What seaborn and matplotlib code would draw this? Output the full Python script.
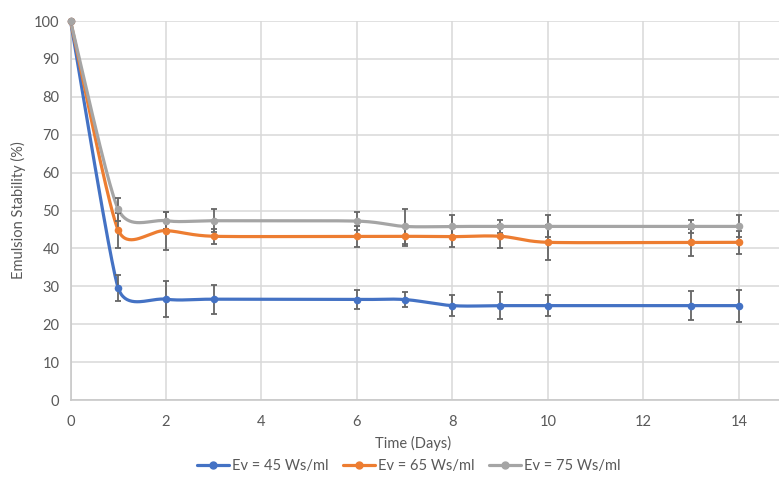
import numpy as np
import pandas as pd
import seaborn as sns
import matplotlib.pyplot as plt
from matplotlib.lines import Line2D

# values
days = [0, 1, 2, 3, 6, 7, 8, 9, 10, 13, 14]
ev45 = [100, 29.5, 26.6, 26.6, 26.5, 26.5, 24.9, 24.9, 24.9, 24.9, 24.9]
ev65 = [100, 44.8, 44.7, 43.2, 43.2, 43.2, 43.1, 43.2, 41.6, 41.6, 41.6]
ev75 = [100, 50.3, 47.3, 47.3, 47.2, 45.8, 45.8, 45.8, 45.8, 45.8, 45.8]
err45 = [0, 3.4, 4.8, 3.8, 2.4, 2.0, 2.8, 3.6, 2.8, 3.8, 4.2]
err65 = [0, 4.6, 5.0, 2.0, 2.8, 2.6, 2.8, 3.0, 4.7, 3.5, 3.0]
err75 = [0, 3.0, 2.3, 3.1, 2.3, 4.6, 3.0, 1.8, 2.9, 1.7, 2.9]
labels = ['Ev = 45 Ws/ml', 'Ev = 65 Ws/ml', 'Ev = 75 Ws/ml']
colors = ['#4472C4', '#ED7D31', '#A5A5A5']


def smooth_curve(x, y, sx=47.75, sy=3.78, n=40):
  # Excel-like smoothed line: Catmull-Rom Bezier, tangent clamped by the shorter neighbour segment
  p = np.column_stack([np.asarray(x, float) * sx, np.asarray(y, float) * sy])
  m = len(p)
  tang = np.zeros_like(p)
  for i in range(m):
    a = p[max(i - 1, 0)]
    b = p[min(i + 1, m - 1)]
    t = (b - a) / 6.0
    segs = []
    if i > 0:
      segs.append(np.linalg.norm(p[i] - p[i - 1]))
    if i < m - 1:
      segs.append(np.linalg.norm(p[i + 1] - p[i]))
    lim = 0.5 * min(segs)
    mag = np.linalg.norm(t)
    if mag > lim:
      t = t * lim / mag
    tang[i] = t
  out = []
  for i in range(m - 1):
    p1, p2 = p[i], p[i + 1]
    c1 = p1 + tang[i]
    c2 = p2 - tang[i + 1]
    tt = np.linspace(0, 1, n)[:, None]
    seg = ((1 - tt) ** 3) * p1 + 3 * ((1 - tt) ** 2) * tt * c1 + 3 * (1 - tt) * tt ** 2 * c2 + tt ** 3 * p2
    out.append(seg if i == 0 else seg[1:])
  out = np.vstack(out)
  return out[:, 0] / sx, out[:, 1] / sy


sns.set_style('white')
plt.rcParams['font.family'] = ['Lato', 'DejaVu Sans']

fig = plt.figure(figsize=(7.79, 4.8), dpi=100)
ax = fig.add_axes([70.5 / 779, 80 / 480, 1 - 70.5 / 779, 379 / 480])

series = [ev45, ev65, ev75]
errs = [err45, err65, err75]

for vals, err, lab, col in zip(series, errs, labels, colors):
  xs, ys = smooth_curve(days, vals)
  curve = pd.DataFrame({'Time': xs, 'Value': ys})
  sns.lineplot(data=curve, x='Time', y='Value', color=col, linewidth=2.3,
               sort=False, ax=ax, zorder=3, clip_on=False)
  ax.errorbar(days, vals, yerr=err, fmt='none', ecolor='#666666',
              elinewidth=1.3, capsize=2.5, capthick=1.3, zorder=4)
  pts = pd.DataFrame({'Time': days, 'Value': vals})
  sns.scatterplot(data=pts, x='Time', y='Value', color=col, s=30,
                  edgecolor=col, linewidth=0, ax=ax, zorder=5, clip_on=False)

ax.set_xlim(0, 14.84)
ax.set_ylim(0, 100)
ax.set_xticks(range(0, 15, 2))
ax.set_yticks(range(0, 101, 10))
ax.grid(True, color='#d9d9d9', linewidth=1.1, zorder=0)
ax.set_axisbelow(True)
for side in ['top', 'right']:
  ax.spines[side].set_visible(False)
for side in ['left', 'bottom']:
  ax.spines[side].set_color('#c8c8c8')
  ax.spines[side].set_linewidth(1.2)
ax.tick_params(axis='y', labelsize=10.5, colors='#595959', length=0, pad=8)
ax.tick_params(axis='x', labelsize=10.5, colors='#595959', length=0, pad=11)
ax.set_xlabel('Time (Days)', fontsize=10.5, color='#595959', labelpad=2)
ax.set_ylabel('Emulsion Stability (%)', fontsize=10.5, color='#595959', labelpad=6)
ax.xaxis.set_label_coords((413 - 70.5) / (779 - 70.5), -0.095)

handles = [Line2D([0], [0], color=c, linewidth=2.3, marker='o', markersize=5)
           for c in colors]
fig.legend(handles, labels, loc='center', bbox_to_anchor=(409 / 779, 1 - 466 / 480),
           ncol=3, frameon=False, fontsize=10.5, handlelength=2.2,
           handletextpad=0.2, columnspacing=1.0, labelcolor='#595959')

fig.savefig('out.png', dpi=100)
